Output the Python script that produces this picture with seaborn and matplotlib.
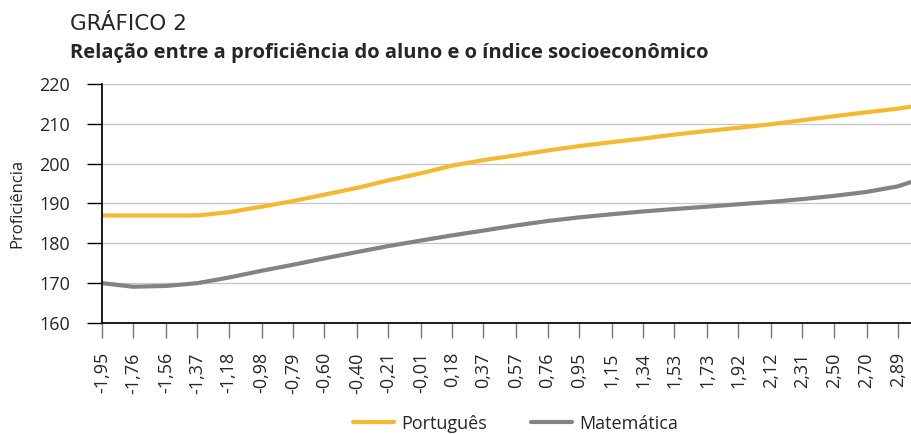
import pandas as pd
import matplotlib.pyplot as plt
import seaborn as sns

# Dados (índice socioeconômico x proficiência)
indice = [-1.95, -1.76, -1.56, -1.37, -1.18, -0.98, -0.79, -0.60, -0.40, -0.21,
          -0.01, 0.18, 0.37, 0.57, 0.76, 0.95, 1.15, 1.34, 1.53, 1.73,
          1.92, 2.12, 2.31, 2.50, 2.70, 2.89, 2.97]
portugues = [187.0, 187.0, 187.0, 187.0, 187.8, 189.2, 190.6, 192.2, 193.9, 195.8,
             197.6, 199.5, 200.9, 202.1, 203.3, 204.4, 205.4, 206.3, 207.3, 208.2,
             209.0, 209.9, 210.9, 211.9, 212.9, 213.8, 214.3]
matematica = [170.0, 169.1, 169.3, 170.0, 171.4, 173.1, 174.6, 176.2, 177.8, 179.3,
              180.7, 182.0, 183.2, 184.5, 185.6, 186.5, 187.3, 188.0, 188.6, 189.2,
              189.8, 190.4, 191.1, 191.9, 192.9, 194.3, 195.4]
tick_vals = indice[:-1]
tick_labels = [f"{v:.2f}".replace(".", ",") for v in tick_vals]

df = pd.DataFrame({
    "indice": indice * 2,
    "prof": portugues + matematica,
    "serie": ["Português"] * len(indice) + ["Matemática"] * len(indice),
})

sns.set_theme(style="white")
plt.rcParams["font.family"] = ["Open Sans", "DejaVu Sans"]

fig = plt.figure(figsize=(9.11, 4.34), dpi=100)
ax = fig.add_axes([0.112, 0.2558, 0.888, 0.5507])

cores = {"Português": "#F4B92F", "Matemática": "#838383"}
sns.lineplot(data=df, x="indice", y="prof", hue="serie", palette=cores,
             linewidth=3.0, ax=ax, legend=False)

ax.set_xlim(-1.95, 2.97)
ax.set_ylim(160, 220)
ax.set_yticks(range(160, 221, 10))
ax.set_xticks(tick_vals)
ax.set_xticklabels(tick_labels, rotation=90, fontsize=13)
ax.tick_params(axis="y", labelsize=13, length=11, width=1, color="black",
               direction="out", left=True, pad=12)
ax.tick_params(axis="x", length=11, width=1, color="#777777", direction="out",
               bottom=True, pad=10)
ax.yaxis.grid(True, color="#C8C8C8", linewidth=1)
ax.set_axisbelow(True)
for s in ["top", "right"]:
    ax.spines[s].set_visible(False)
ax.spines["left"].set_color("black")
ax.spines["bottom"].set_color("black")
ax.set_xlabel("")
ax.set_ylabel("Proficiência", fontsize=12, labelpad=10)

fig.text(0.077, 0.932, "GRÁFICO 2", fontsize=15.5,
         fontfamily=["Liberation Sans Narrow", "DejaVu Sans"])
fig.text(0.077, 0.866, "Relação entre a proficiência do aluno e o índice socioeconômico",
         fontsize=14.5, fontweight="bold")

handles = [plt.Line2D([], [], color=cores[k], linewidth=3.0) for k in cores]
fig.legend(handles, list(cores.keys()), loc="center", bbox_to_anchor=(0.566, 0.024),
           ncol=2, frameon=False, fontsize=13, handlelength=2.3,
           handletextpad=0.4, columnspacing=2.4)

fig.savefig("out.png", dpi=100)
